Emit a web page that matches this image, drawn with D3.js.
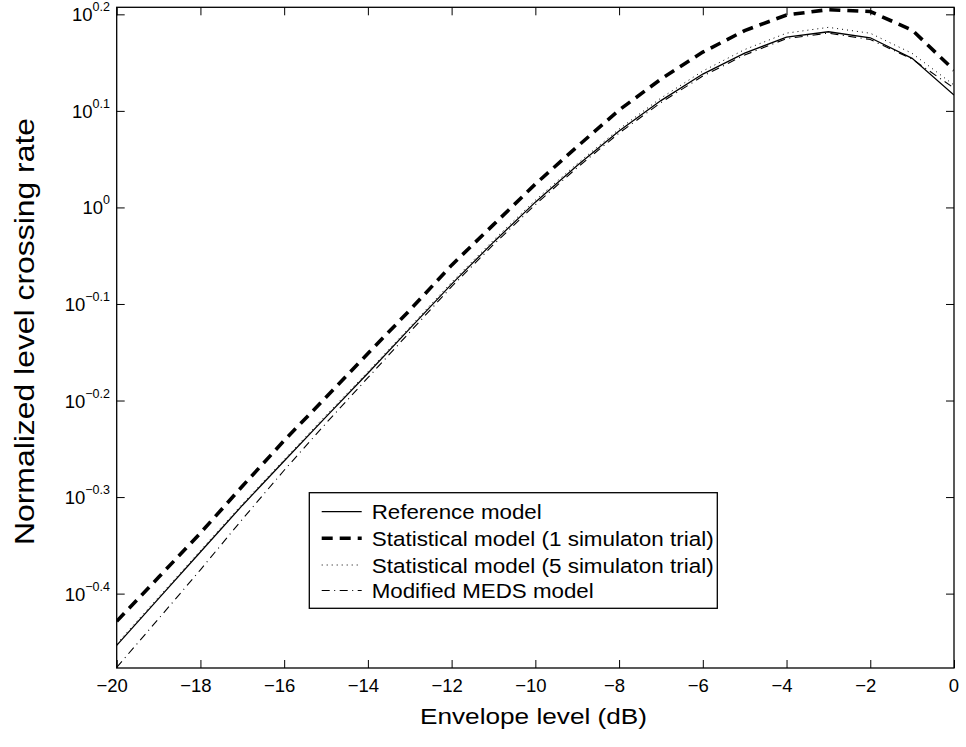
<!DOCTYPE html>
<html><head><meta charset="utf-8">
<script src="https://cdn.jsdelivr.net/npm/d3@7"></script>
<style>
body{margin:0;background:#fff}
text{font-family:"Liberation Sans",Arial,Helvetica,sans-serif;fill:#000}
</style>
</head><body>
<svg id="chart" width="966" height="747"></svg>
<script>
// ---------- data ----------
const levels = [-20,-19,-18,-17,-16,-15,-14,-13,-12,-11,-10,-9,-8,-7,-6,-5,-4,-3,-2,-1,0];
const referenceModel = [0.3519,0.3934,0.4397,0.4913,0.5462,0.6069,0.6734,0.7489,0.8328,0.9205,1.0127,1.1049,1.1997,1.2902,1.3745,1.4450,1.5012,1.5203,1.4987,1.4269,1.3073];
const statModel1 = [0.3727,0.4139,0.4600,0.5143,0.5735,0.6360,0.7058,0.7826,0.8714,0.9598,1.0572,1.1561,1.2613,1.3581,1.4484,1.5247,1.5826,1.6027,1.5955,1.5265,1.3876];
const statModel5 = [0.3532,0.3948,0.4412,0.4930,0.5481,0.6092,0.6758,0.7516,0.8367,0.9249,1.0176,1.1101,1.2054,1.2981,1.3844,1.4572,1.5154,1.5365,1.5150,1.4440,1.3389];
const medsModel = [0.3339,0.3749,0.4214,0.4753,0.5343,0.5977,0.6662,0.7426,0.8278,0.9151,1.0067,1.0996,1.1940,1.2841,1.3680,1.4383,1.4959,1.5154,1.4924,1.4245,1.3293];
const seriesNames = ["Reference model","Statistical model (1 simulaton trial)","Statistical model (5 simulaton trial)","Modified MEDS model"];
const xTickValues = [-20,-18,-16,-14,-12,-10,-8,-6,-4,-2,0];
const yTickExponents = [-0.4,-0.3,-0.2,-0.1,0,0.1,0.2];
const xTitle = "Envelope level (dB)";
const yTitle = "Normalized level crossing rate";

// ---------- layout ----------
const L = 116.7, R = 954, T = 7.3, B = 668;
const svg = d3.select("#chart");

const x = d3.scaleLinear().domain([-20, 0]).range([L, R]);
const y = d3.scaleLog().domain([0.3334, 1.6117]).range([B, T]);
const yTickValues = yTickExponents.map(e => Math.pow(10, e));
const fmtExp = e => (e < 0 ? "\u2212" : "") + (e === 0 ? "0" : Math.abs(e).toFixed(1));
const fmtX = v => (v < 0 ? "\u2212" : "") + Math.abs(v);

// ticks on all four sides, pointing inward
const tickLen = 8;
function styleAxis(g){ g.select(".domain").remove(); g.selectAll(".tick line").attr("stroke","#000").attr("stroke-width",1); g.selectAll(".tick text").remove(); }
svg.append("g").attr("transform",`translate(0,${B})`).call(d3.axisBottom(x).tickValues(xTickValues).tickSizeInner(-tickLen).tickSizeOuter(0)).call(styleAxis);
svg.append("g").attr("transform",`translate(0,${T})`).call(d3.axisTop(x).tickValues(xTickValues).tickSizeInner(-tickLen).tickSizeOuter(0)).call(styleAxis);
svg.append("g").attr("transform",`translate(${L},0)`).call(d3.axisLeft(y).tickValues(yTickValues).tickSizeInner(-tickLen).tickSizeOuter(0)).call(styleAxis);
svg.append("g").attr("transform",`translate(${R},0)`).call(d3.axisRight(y).tickValues(yTickValues).tickSizeInner(-tickLen).tickSizeOuter(0)).call(styleAxis);

// x tick labels
svg.append("g").selectAll("text").data(xTickValues).join("text")
  .attr("x", d => x(d) + (d < 0 ? -4.5 : 0))
  .attr("y", B + 24)
  .attr("text-anchor","middle")
  .attr("font-size", 18.5)
  .text(fmtX);

// y tick labels: 10^e with superscript
const yl = svg.append("g").selectAll("text").data(yTickExponents).join("text")
  .attr("x", L - 6.7)
  .attr("y", d => y(Math.pow(10, d)) + 7)
  .attr("text-anchor","end")
  .attr("font-size", 18.5);
yl.append("tspan").text("10");
yl.append("tspan").attr("dy", -10).attr("font-size", 12.5).text(fmtExp);

// axis titles
svg.append("text").attr("x", 420).attr("y", 724).attr("font-size", 22)
  .attr("textLength", 227).attr("lengthAdjust","spacingAndGlyphs").text(xTitle);
svg.append("text").attr("transform", `translate(33.5,545) rotate(-90)`).attr("font-size", 27)
  .attr("textLength", 427).attr("lengthAdjust","spacingAndGlyphs").text(yTitle);

// lines
const series = [
  {name: seriesNames[0], values: referenceModel, width: 1.3, dash: null, tlen: 170},
  {name: seriesNames[1], values: statModel1, width: 3.6, dash: "11,7", tlen: 342},
  {name: seriesNames[2], values: statModel5, width: 1, dash: "1,4", tlen: 342},
  {name: seriesNames[3], values: medsModel, width: 1.1, dash: "8,4.5,1,4.5", tlen: 222}
];
const line = d3.line().x((d, i) => x(levels[i])).y(d => y(d));
svg.append("clipPath").attr("id","plotclip").append("rect").attr("x",L).attr("y",T).attr("width",R-L).attr("height",B-T);
svg.append("g").attr("clip-path","url(#plotclip)").selectAll("path").data(series).join("path")
  .attr("d", d => line(d.values))
  .attr("fill","none").attr("stroke","#000")
  .attr("stroke-width", d => d.width)
  .attr("stroke-dasharray", d => d.dash);

// frame
svg.append("rect").attr("x",L).attr("y",T).attr("width",R-L).attr("height",B-T).attr("fill","none").attr("stroke","#000").attr("stroke-width",1.3);

// legend
const lg = svg.append("g");
lg.append("rect").attr("x",309.3).attr("y",492.7).attr("width",408).attr("height",115.6).attr("fill","#fff").attr("stroke","#000").attr("stroke-width",1.3);
const rowY = [511.7, 538.3, 565, 590.5];
const rows = lg.selectAll("g.row").data(series).join("g").attr("class","row").attr("transform",(d,i)=>`translate(0,${rowY[i]})`);
rows.append("line").attr("x1",321.7).attr("x2",361.7).attr("y1",0).attr("y2",0)
  .attr("stroke","#000").attr("stroke-width", d => d.width).attr("stroke-dasharray", d => d.dash);
rows.append("text").attr("x",371.7).attr("y",7.5).attr("font-size",20.5)
  .attr("textLength", d => d.tlen).attr("lengthAdjust","spacingAndGlyphs").text(d => d.name);
</script>
</body></html>
